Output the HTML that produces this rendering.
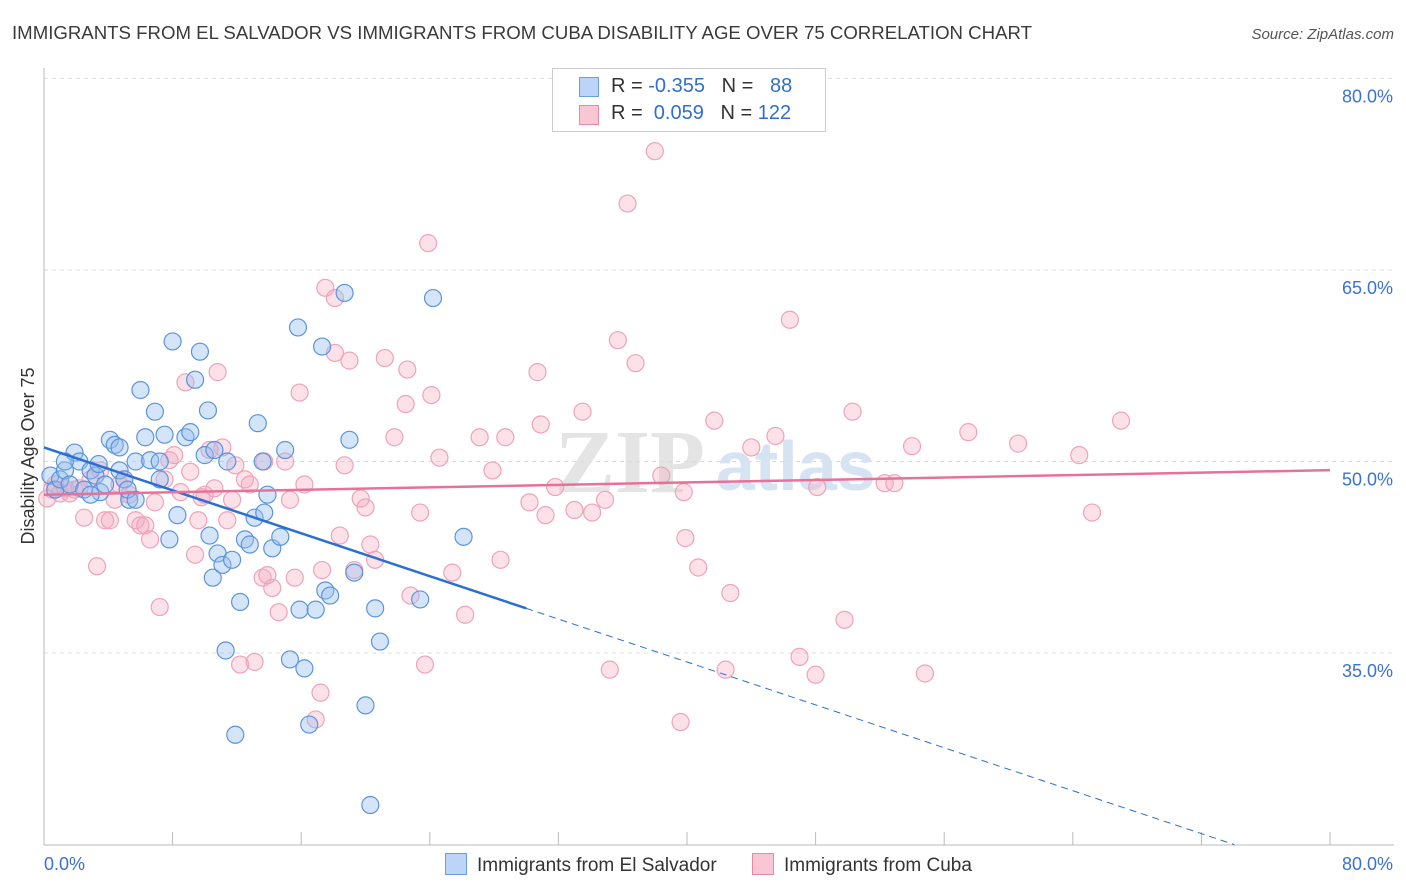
<!DOCTYPE html>
<html><head><meta charset="utf-8"><style>
body{margin:0;background:#fff;font-family:"Liberation Sans",sans-serif;}
#wrap{position:relative;width:1406px;height:892px;overflow:hidden;}
</style></head><body>
<div id="wrap">
<svg id="svg" width="1406" height="892" xmlns="http://www.w3.org/2000/svg">
<text x="12" y="39" font-size="18" fill="#3a3a3a" textLength="1020" lengthAdjust="spacingAndGlyphs">IMMIGRANTS FROM EL SALVADOR VS IMMIGRANTS FROM CUBA DISABILITY AGE OVER 75 CORRELATION CHART</text>
<text x="1394" y="39" font-size="15" fill="#555" text-anchor="end" font-style="italic">Source: ZipAtlas.com</text>
<text x="34" y="456" font-size="18" fill="#333" text-anchor="middle" transform="rotate(-90 34 456)">Disability Age Over 75</text>
<text x="555" y="492" font-size="90" fill="#e4e4e4" font-family="Liberation Serif" font-weight="bold">ZIP</text>
<text x="716" y="490" font-size="70" fill="#d6e3f3" font-weight="bold">atlas</text>
<g id="grid"></g><g id="pts"></g><g id="lines"></g>
</svg>
<div style="position:absolute;left:552px;top:68px;width:272px;height:62px;border:1px solid #ccc;background:#fff;font-size:20px;">
 <div style="position:absolute;left:26px;top:8px;width:18px;height:18px;background:#bcd4f5;border:1px solid #6a9ee0;"></div>
 <div style="position:absolute;left:58px;top:6px;color:#333;">R = <span style="color:#2f6fd0">-0.355</span>&nbsp;&nbsp;&nbsp;N = <span style="color:#2f6fd0">&nbsp;&nbsp;88</span></div>
 <div style="position:absolute;left:26px;top:36px;width:18px;height:18px;background:#f8c6d4;border:1px solid #e88aa6;"></div>
 <div style="position:absolute;left:58px;top:33px;color:#333;">R = &nbsp;<span style="color:#2f6fd0">0.059</span>&nbsp;&nbsp;&nbsp;N = <span style="color:#2f6fd0">122</span></div>
</div>
<div style="position:absolute;left:445px;top:853px;font-size:19px;color:#333;">
 <span style="display:inline-block;width:20px;height:20px;background:#bcd4f5;border:1px solid #6a9ee0;vertical-align:-4px;margin-right:10px;"></span><span>Immigrants from El Salvador</span>
 <span style="display:inline-block;width:20px;height:20px;background:#f8c6d4;border:1px solid #e88aa6;vertical-align:-4px;margin:0 10px 0 30px;"></span><span>Immigrants from Cuba</span>
</div>
</div>
<script>
const yTicks=[80,65,50,35];
const blueX=[0.4,0.7,1.0,1.3,1.6,1.9,2.2,2.5,2.9,3.2,3.5,3.8,4.1,4.4,4.7,5.0,5.3,5.7,6.0,6.3,6.6,6.9,7.2,7.5,7.8,8.0,8.3,8.8,9.1,9.4,9.7,10.0,10.2,10.3,10.5,10.6,10.8,11.1,11.3,11.4,11.7,11.9,12.2,12.5,12.8,13.1,13.3,13.6,13.7,13.9,14.2,14.7,15.0,15.3,15.8,15.9,16.2,16.5,16.9,17.3,17.5,17.8,18.7,19.0,19.3,20.0,20.3,20.6,20.9,23.4,24.2,26.1,1.3,3.4,2.9,4.7,5.2,5.7,7.2];
const blueY=[48.9,47.8,48.6,49.3,48.2,50.7,50.0,47.8,49.3,48.9,47.6,48.2,51.7,51.3,49.3,48.6,47.0,50.0,55.6,51.9,50.1,53.9,48.6,52.1,43.9,59.4,45.8,51.9,52.3,56.4,58.6,50.5,54.0,44.2,40.9,50.9,42.8,41.9,35.2,50.0,42.3,28.6,39.0,43.9,43.5,45.6,53.0,50.0,46.0,47.4,43.2,44.1,50.9,34.5,60.5,38.4,33.8,29.4,38.4,59.0,39.9,39.5,63.2,51.7,41.3,30.9,23.1,38.5,35.9,39.2,62.8,44.1,50.0,49.8,47.4,51.1,47.8,47.0,50.0];
const pinkX=[0.2,0.5,0.7,1.0,1.3,1.6,1.9,2.2,2.5,2.9,3.3,3.5,3.8,4.1,4.4,4.7,5.0,5.3,5.7,6.0,6.3,6.6,6.9,7.2,7.5,7.8,8.1,8.5,8.8,9.1,9.4,9.6,9.8,10.0,10.3,10.6,10.8,11.1,11.4,11.7,11.9,12.2,12.5,12.8,13.1,13.6,13.7,13.9,14.2,14.6,15.0,15.3,15.6,15.9,16.2,16.9,17.2,17.3,17.5,18.1,18.1,18.4,18.7,19.0,19.3,19.7,20.0,20.3,20.6,21.2,21.8,22.5,22.6,22.8,23.4,23.7,23.9,24.1,24.6,25.4,26.2,27.1,27.9,28.4,28.7,30.2,30.7,30.9,31.2,31.8,33.0,33.5,34.1,34.9,35.2,35.7,36.8,38.0,38.4,39.6,39.8,39.9,40.7,41.7,42.4,42.7,44.0,45.5,46.4,47.0,48.0,48.1,49.8,50.3,52.3,52.9,54.0,54.8,57.5,60.6,64.4,65.2,67.0,36.3];
const pinkY=[47.1,47.8,48.2,47.5,47.9,47.5,47.8,47.9,45.6,48.6,41.8,49.3,45.4,45.4,47.0,48.2,48.6,47.4,45.4,45.0,45.0,43.9,46.8,38.6,48.6,50.1,50.5,47.6,56.2,49.2,42.7,45.4,47.2,47.4,50.9,47.9,57.0,51.1,45.4,47.0,49.7,34.1,48.6,48.2,34.3,40.9,50.0,41.1,40.1,38.2,50.0,47.0,40.9,55.4,48.2,29.8,31.9,41.5,63.6,62.8,58.5,44.2,49.7,57.9,41.5,47.1,46.4,43.5,42.3,58.1,51.9,54.5,57.2,39.5,46.0,34.1,67.1,55.2,50.3,41.3,38.0,51.9,49.3,42.3,51.9,46.8,57.0,52.9,45.8,48.0,46.2,53.9,46.0,47.0,33.7,59.5,57.7,74.3,48.9,29.6,47.6,44.0,41.7,53.2,33.7,39.7,51.1,52.0,61.1,34.7,33.3,48.0,37.6,53.9,48.3,48.3,51.2,33.4,52.3,51.4,50.5,46.0,53.2,70.2];
const blueTrend=[51.1,-0.42];
const pinkTrend=[47.4,0.024];
const X=v=>44+v*16.075, Y=v=>1100-v*12.77;
const NS="http://www.w3.org/2000/svg";
function mk(t,a,p){const e=document.createElementNS(NS,t);for(const k in a)e.setAttribute(k,a[k]);p.appendChild(e);return e;}
const grid=document.getElementById('grid'),pts=document.getElementById('pts'),lines=document.getElementById('lines'),svg=document.getElementById('svg');
yTicks.forEach(t=>{
 const l=mk('line',{x1:44,x2:1394,y1:Y(t),y2:Y(t),stroke:'#ddd','stroke-dasharray':'4,4'},grid);
 
 
 const tx=mk('text',{x:1393,y:Y(t)+24,'font-size':18,fill:'#3a72d0','text-anchor':'end'},grid);tx.textContent=t.toFixed(1)+'%';
 
 
});
const ax=mk('line',{x1:44,x2:44,y1:68,y2:845,stroke:'#bbb'},grid);


const bx=mk('line',{x1:44,x2:1394,y1:845,y2:845,stroke:'#bbb'},grid);


for(let i=0;i<=10;i++){const t=mk('line',{x1:X(i*8),x2:X(i*8),y1:845,y2:832,stroke:'#bbb'},grid);
 
 }
[[0,44,'start'],[80,1393,'end']].forEach(d=>{const t=mk('text',{x:d[1],y:870,'font-size':18,fill:'#3a72d0','text-anchor':d[2]},grid);t.textContent=d[0].toFixed(1)+'%';
 
 });
pinkX.forEach((x,i)=>{const c=mk('circle',{cx:X(x),cy:Y(pinkY[i]),r:8.5,fill:'rgba(246,170,192,0.35)',stroke:'#eea3b8','stroke-width':1.2},pts);
 
 });
blueX.forEach((x,i)=>{const c=mk('circle',{cx:X(x),cy:Y(blueY[i]),r:8.5,fill:'rgba(150,190,240,0.4)',stroke:'#5b94dc','stroke-width':1.2},pts);
 
 });
const bEnd=(20-blueTrend[0])/blueTrend[1];
let l=mk('line',{x1:X(0),y1:Y(blueTrend[0]),x2:X(30),y2:Y(blueTrend[0]+blueTrend[1]*30),stroke:'#2a6fd4','stroke-width':2.5},lines);


l=mk('line',{x1:X(30),y1:Y(blueTrend[0]+blueTrend[1]*30),x2:X(bEnd),y2:Y(20),stroke:'#2a6fd4','stroke-width':1,'stroke-dasharray':'7,5'},lines);


l=mk('line',{x1:X(0),y1:Y(pinkTrend[0]),x2:X(80),y2:Y(pinkTrend[0]+pinkTrend[1]*80),stroke:'#e8719a','stroke-width':2.5},lines);


</script>
</body></html>
